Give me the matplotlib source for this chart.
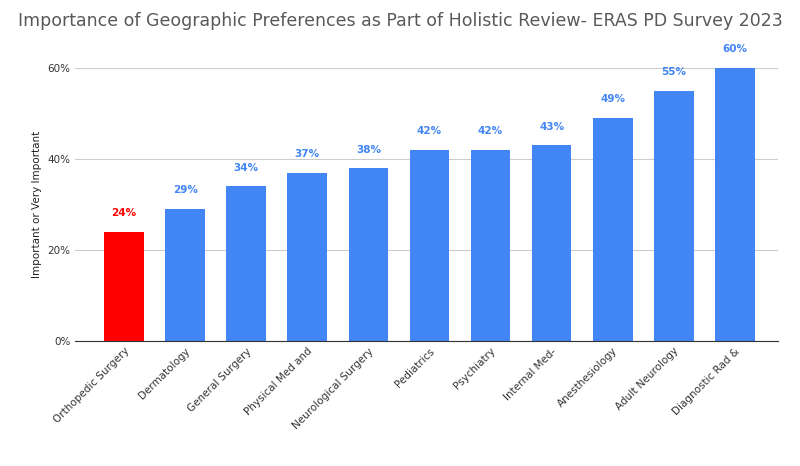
import matplotlib.pyplot as plt
from matplotlib.ticker import PercentFormatter

categories = ["Orthopedic Surgery", "Dermatology", "General Surgery", "Physical Med and",
              "Neurological Surgery", "Pediatrics", "Psychiatry", "Internal Med-",
              "Anesthesiology", "Adult Neurology", "Diagnostic Rad &"]
values = [24, 29, 34, 37, 38, 42, 42, 43, 49, 55, 60]
colors = ["#ff0000"] + ["#4285f4"] * 10
label_colors = ["#ff0000"] + ["#4285f4"] * 10

fig = plt.figure(figsize=(8, 4.66), dpi=100)
ax = fig.add_axes([0.094, 0.268, 0.878, 0.586])

x = range(len(categories))
ax.bar(x, values, width=0.65, color=colors, zorder=2)
for i, v in enumerate(values):
    ax.text(i, v + 3, f"{v}%", ha="center", va="bottom", fontsize=7.5,
            fontweight="bold", color=label_colors[i], clip_on=False)

ax.set_xlim(-0.8, 10.7)
ax.set_ylim(0, 60)
ax.set_yticks([0, 20, 40, 60])
ax.yaxis.set_major_formatter(PercentFormatter(decimals=0))
ax.grid(axis="y", color="#cccccc", linewidth=0.8, zorder=0)
for s in ["top", "right", "left"]:
    ax.spines[s].set_visible(False)
ax.spines["bottom"].set_color("#333333")
ax.tick_params(axis="y", length=0, labelsize=7.5, colors="#333333")
ax.tick_params(axis="x", length=0, labelsize=7.5, colors="#333333")
ax.set_xticks(list(x))
ax.set_xticklabels(categories, rotation=45, ha="right", rotation_mode="anchor")
ax.set_ylabel("Important or Very Important", fontsize=7.5, color="#222222")

fig.text(0.5, 0.955, "Importance of Geographic Preferences as Part of Holistic Review- ERAS PD Survey 2023",
         ha="center", va="center", fontsize=12.5, color="#595959")

fig.savefig("out.png", dpi=100)
